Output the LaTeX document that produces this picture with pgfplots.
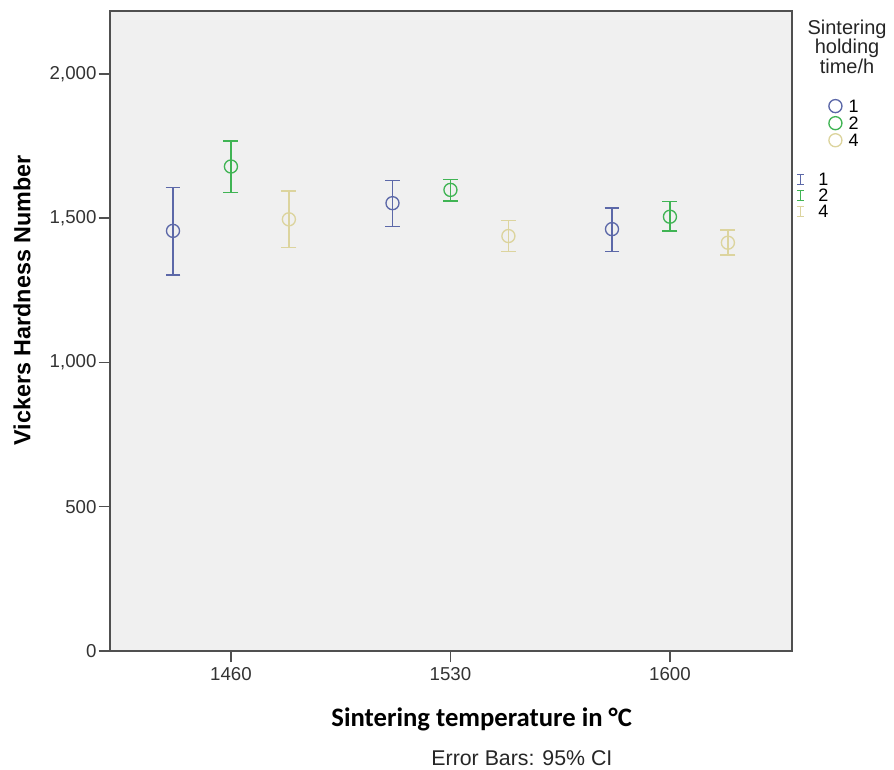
\documentclass[border=0pt]{standalone}
\usepackage{pgfplots}
\pgfplotsset{compat=1.18}
\usepackage{pgfplotstable}
\usepackage{fontspec}
\setmainfont{Liberation Sans}
\newfontfamily\calibrifont{Carlito}

\definecolor{grpA}{RGB}{92,104,168}
\definecolor{grpB}{RGB}{64,180,84}
\definecolor{grpC}{RGB}{220,212,158}
\definecolor{panel}{RGB}{240,240,240}
\definecolor{framec}{RGB}{80,80,80}

% Mean Vickers hardness with lower/upper 95% CI bounds.
% g = 0, 1, 2 stands for 1460, 1530, 1600 degC.
\pgfplotstableread{
g mean lo hi
0 1456 1303 1606
1 1552 1471 1631
2 1462 1384 1535
}\holdone
\pgfplotstableread{
g mean lo hi
0 1679 1589 1768
1 1598 1560 1633
2 1505 1456 1557
}\holdtwo
\pgfplotstableread{
g mean lo hi
0 1496 1398 1594
1 1438 1384 1492
2 1415 1372 1459
}\holdfour

\pgfplotsset{
  cistyle/.style={
    #1, only marks, mark=o, mark size=4.9pt, line width=1pt, forget plot,
    error bars/.cd, y dir=both, y explicit,
    error mark=|,
    error bar style={line width=1pt, #1},
    error mark options={mark size=5.6pt, line width=1pt, #1},
  },
}

\begin{document}
\begin{tikzpicture}
\useasboundingbox (0,0) rectangle (670.5pt,577.5pt);
\begin{axis}[
  at={(82.5pt,89.25pt)}, anchor=south west,
  scale only axis, width=511.5pt, height=480pt,
  xmin=-0.551, xmax=2.556, ymin=0, ymax=2218,
  clip mode=individual,
  axis background/.style={fill=panel},
  axis line style={draw=framec, line width=1.2pt},
  xtick={0,1,2}, xticklabels={1460,1530,1600},
  ytick={0,500,1000,1500,2000},
  xtick pos=bottom, ytick pos=left,
  tick align=outside, major tick length=8.5pt,
  tick style={draw=framec, line width=1.1pt},
  ticklabel style={font=\fontsize{14}{16}\selectfont, text=black!80},
  /pgf/number format/assume math mode=true,
  /pgf/number format/1000 sep={,},
  yticklabel style={inner sep=1.5pt},
  ylabel={Vickers Hardness Number},
  ylabel style={at={(axis description cs:-0.129,0.548)}, anchor=center,
    font=\bfseries\fontsize{17.5}{20}\selectfont},
  xlabel={Sintering temperature in °C},
  xlabel style={at={(axis description cs:0.545,-0.107)}, anchor=center,
    font=\calibrifont\bfseries\fontsize{20}{24}\selectfont},
  legend style={at={(axis description cs:1.006,0.862)}, anchor=north west,
    draw=none, fill=none, inner sep=0pt, row sep=3pt, column sep=-17.75pt,
    font=\fontsize{13.5}{15}\selectfont,
    nodes={inner sep=0pt, text height=9pt, text depth=0pt}},
  legend cell align=left,
]
\addplot[cistyle=grpA] table[x expr=\thisrow{g}-0.264, y=mean,
  y error plus expr=\thisrow{hi}-\thisrow{mean},
  y error minus expr=\thisrow{mean}-\thisrow{lo}] {\holdone};
\addplot[cistyle=grpB] table[x expr=\thisrow{g}, y=mean,
  y error plus expr=\thisrow{hi}-\thisrow{mean},
  y error minus expr=\thisrow{mean}-\thisrow{lo}] {\holdtwo};
\addplot[cistyle=grpC] table[x expr=\thisrow{g}+0.264, y=mean,
  y error plus expr=\thisrow{hi}-\thisrow{mean},
  y error minus expr=\thisrow{mean}-\thisrow{lo}] {\holdfour};

% legend: mean markers, then CI bars
\pgfplotsset{
  circimg/.style={#1, only marks, mark=o, mark size=4.9pt, line width=1pt,
    legend image code/.code={\draw[mark repeat=1,mark phase=1,##1] plot coordinates {(26pt,0pt)};}},
  barimg/.style={#1, line width=1pt,
    legend image code/.code={\draw[##1] (0pt,-3.6pt) -- (0pt,3.6pt)
      (-2.8pt,-3.6pt) -- (2.8pt,-3.6pt) (-2.8pt,3.6pt) -- (2.8pt,3.6pt);}},
}
\addlegendimage{circimg=grpA}\addlegendentry{1}
\addlegendimage{circimg=grpB}\addlegendentry{2}
\addlegendimage{circimg=grpC}\addlegendentry{4}
\addlegendimage{empty legend}\addlegendentry[text height=14pt]{}
\addlegendimage{barimg=grpA}\addlegendentry[xshift=-22.75pt]{1}
\addlegendimage{barimg=grpB}\addlegendentry[xshift=-22.75pt]{2}
\addlegendimage{barimg=grpC}\addlegendentry[xshift=-22.75pt]{4}

\node[align=center, font=\fontsize{15}{13}\selectfont, text=black!85]
  at (axis description cs:1.0807,0.944) {Sintering\\holding\\time/h};
\node[font=\fontsize{16}{18}\selectfont, text=black!85]
  at (axis description cs:0.604,-0.167) {Error Bars: 95\% CI};
\end{axis}
\end{tikzpicture}
\end{document}
